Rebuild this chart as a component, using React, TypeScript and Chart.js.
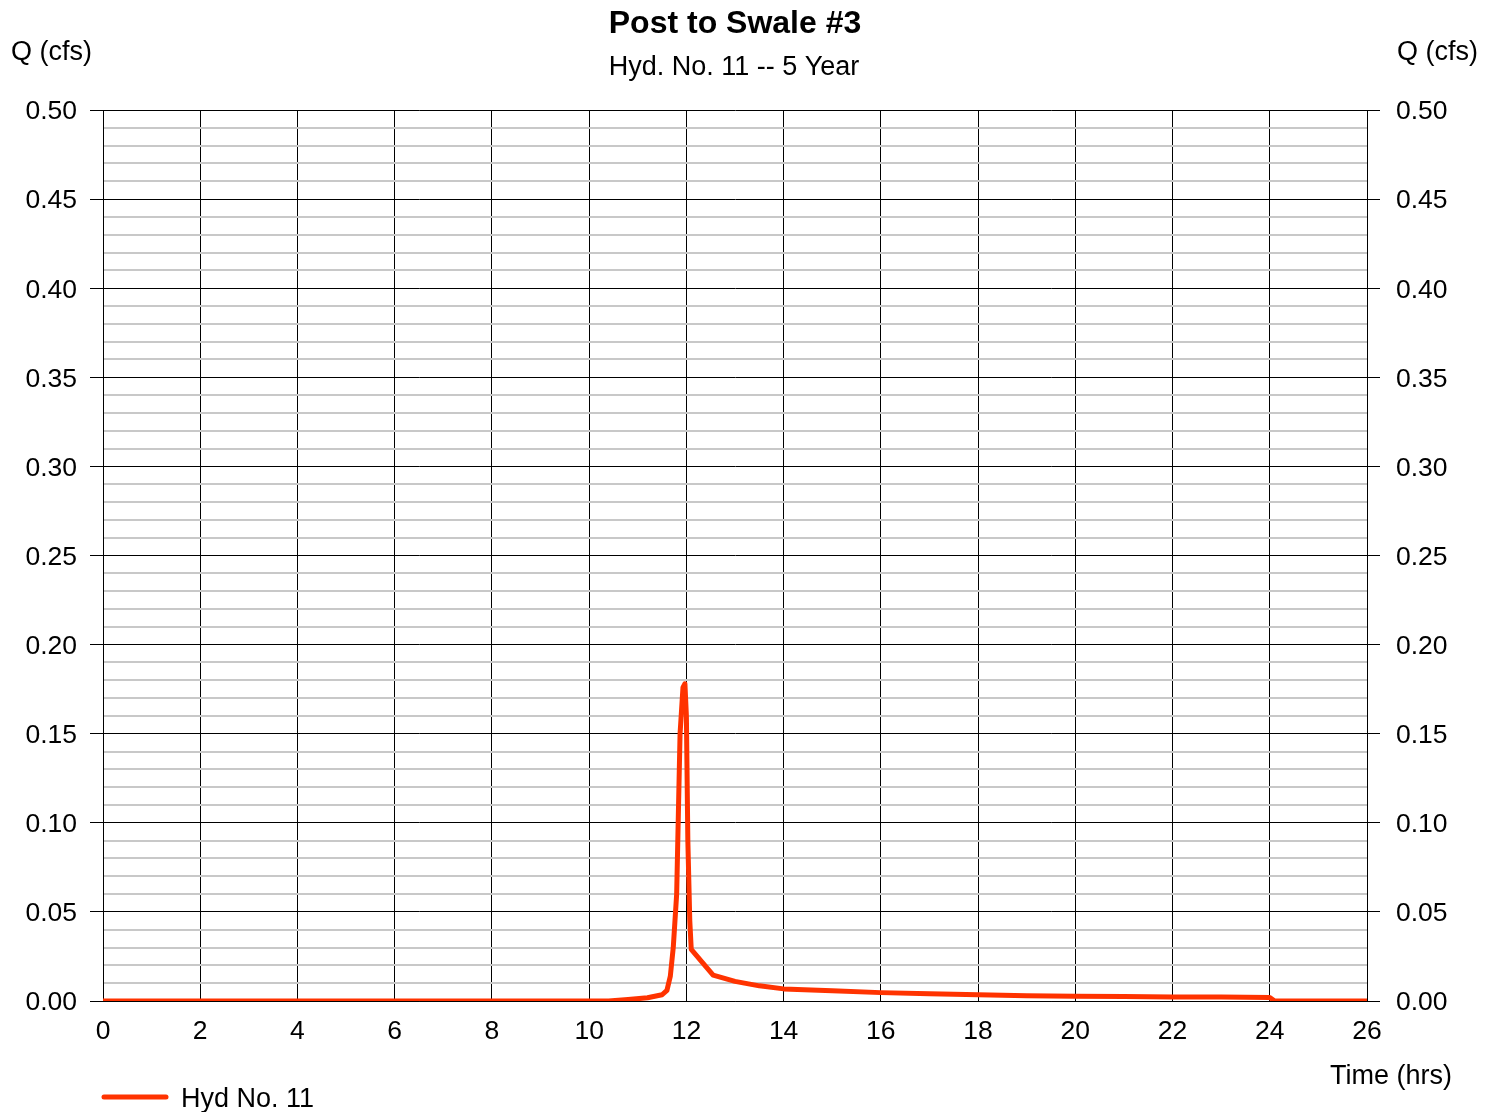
import React, { useEffect, useRef } from "react";
import { Chart, registerables } from "chart.js";

Chart.register(...registerables);

const chartTitle = "Post to Swale #3";
const chartSubtitle = "Hyd. No. 11 -- 5 Year";
const yAxisLabel = "Q (cfs)";
const xAxisLabel = "Time (hrs)";
const seriesLabel = "Hyd No. 11";

const timeHrs = [
  0, 10.0, 10.4, 10.8, 11.2, 11.5, 11.6, 11.67, 11.73, 11.8, 11.87, 11.93, 11.97, 12.0, 12.03,
  12.07, 12.1, 12.55, 13.0, 13.5, 14.0, 15.0, 16.0, 17.0, 18.0, 19.0, 20.0, 21.0, 22.0, 23.0,
  24.0, 24.1, 26.0,
];
const flowCfs = [
  0, 0, 0, 0.0008, 0.0018, 0.0035, 0.006, 0.014, 0.03, 0.06, 0.15, 0.176, 0.178, 0.16, 0.09,
  0.045, 0.029, 0.0145, 0.011, 0.0085, 0.0068, 0.0058, 0.0047, 0.004, 0.0035, 0.003, 0.0026,
  0.0025, 0.0023, 0.0022, 0.002, 0, 0,
];

const xMin = 0;
const xMax = 26;
const xStep = 2;
const yMin = 0;
const yMax = 0.5;
const yMinorStep = 0.01;
const yMajorEvery = 5; // every 0.05

const FONT = "'Liberation Sans', Arial, sans-serif";
const LINE_COLOR = "#ff3300";

const isMajor = (v: number) => Math.round(v / yMinorStep) % yMajorEvery === 0;

export default function App() {
  const ref = useRef<HTMLCanvasElement | null>(null);

  useEffect(() => {
    if (!ref.current) return;
    const points = timeHrs.map((t, i) => ({ x: t, y: flowCfs[i] }));

    const textPlugin = {
      id: "texts",
      afterDraw(chart: any) {
        const ctx = chart.ctx;
        ctx.save();
        ctx.fillStyle = "#000";
        ctx.textBaseline = "middle";
        ctx.textAlign = "center";
        ctx.font = `bold 32px ${FONT}`;
        ctx.fillText(chartTitle, 735, 24);
        ctx.font = `27px ${FONT}`;
        ctx.fillText(chartSubtitle, 734, 68);
        ctx.textAlign = "left";
        ctx.fillText(yAxisLabel, 11, 53);
        ctx.textAlign = "right";
        ctx.fillText(yAxisLabel, 1478, 53);
        ctx.fillText(xAxisLabel, 1452, 1077);
        // legend
        const ds = chart.data.datasets[0];
        ctx.strokeStyle = ds.borderColor;
        ctx.lineWidth = 5;
        ctx.lineCap = "round";
        ctx.beginPath();
        ctx.moveTo(104, 1097);
        ctx.lineTo(166, 1097);
        ctx.stroke();
        ctx.textAlign = "left";
        ctx.fillText(ds.label, 181, 1100);
        ctx.restore();
      },
    };

    const gridColor = (c: any) => (isMajor(c.tick.value) ? "#000000" : "#c8c8c8");
    const gridWidth = (c: any) => (isMajor(c.tick.value) ? 1 : 2);
    const tickColor = (c: any) => (isMajor(c.tick.value) ? "#000000" : "rgba(0,0,0,0)");
    const tickLabel = (v: any) => (isMajor(v) ? Number(v).toFixed(2) : "");

    const chart = new Chart(ref.current, {
      type: "line",
      data: {
        datasets: [
          {
            label: seriesLabel,
            data: points,
            borderColor: LINE_COLOR,
            backgroundColor: LINE_COLOR,
            borderWidth: 5,
            pointRadius: 0,
            tension: 0,
            borderCapStyle: "round",
            borderJoinStyle: "round",
            fill: false,
          },
        ],
      },
      options: {
        responsive: false,
        animation: false,
        events: [],
        layout: { padding: { top: 110, left: 0, right: 0, bottom: 0 } },
        plugins: {
          legend: { display: false },
          title: { display: false },
          tooltip: { enabled: false },
        },
        scales: {
          x: {
            type: "linear",
            min: xMin,
            max: xMax,
            afterFit: (s: any) => {
              s.height = 111;
            },
            ticks: {
              stepSize: xStep,
              color: "#000",
              font: { family: FONT, size: 26.5 },
              padding: 15,
              maxRotation: 0,
              autoSkip: false,
            },
            grid: { color: "#000", lineWidth: 1, drawTicks: false },
            border: { color: "#000", width: 1 },
          },
          y: {
            type: "linear",
            position: "left",
            min: yMin,
            max: yMax,
            afterFit: (s: any) => {
              s.width = 103;
            },
            ticks: {
              stepSize: yMinorStep,
              autoSkip: false,
              color: "#000",
              font: { family: FONT, size: 26.5 },
              padding: 13,
              labelOffset: 2,
              callback: tickLabel,
            },
            grid: {
              color: gridColor,
              lineWidth: gridWidth,
              tickColor: tickColor,
              tickLength: 13,
              tickWidth: 1,
            },
            border: { color: "#000", width: 1 },
          },
          y2: {
            type: "linear",
            position: "right",
            min: yMin,
            max: yMax,
            afterFit: (s: any) => {
              s.width = 129;
            },
            ticks: {
              stepSize: yMinorStep,
              autoSkip: false,
              color: "#000",
              font: { family: FONT, size: 26.5 },
              padding: 16,
              labelOffset: 2,
              callback: tickLabel,
            },
            grid: {
              drawOnChartArea: false,
              tickColor: tickColor,
              tickLength: 13,
              tickWidth: 1,
            },
            border: { color: "#000", width: 1 },
          },
        },
      },
      plugins: [textPlugin],
    } as any);

    return () => chart.destroy();
  }, []);

  return (
    <div style={{ position: "absolute", left: 0, top: 0, width: 1496, height: 1112, background: "#fff" }}>
      <canvas ref={ref} width={1496} height={1112} style={{ width: 1496, height: 1112, display: "block" }} />
    </div>
  );
}
